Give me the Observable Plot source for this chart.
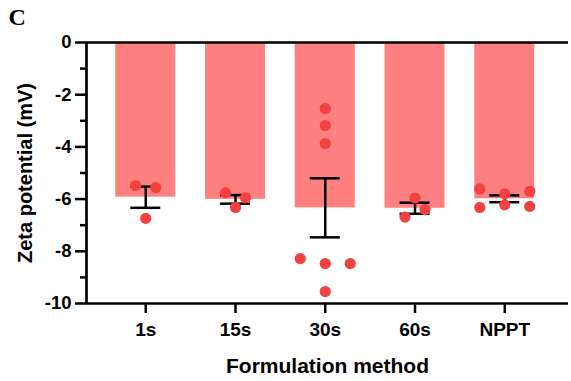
<!DOCTYPE html>
<html>
<head>
<meta charset="utf-8">
<script src="https://cdn.jsdelivr.net/npm/d3@7"></script>
<script src="https://cdn.jsdelivr.net/npm/@observablehq/plot@0.6"></script>
<style>
  html, body { margin: 0; padding: 0; background: #fff; }
  #chart svg { display: block; }
</style>
</head>
<body>
<div id="chart"></div>
<script>
// ---- data ----
const categories = ["1s", "15s", "30s", "60s", "NPPT"];
const v1s   = [-5.48, -5.56, -6.74];
const v15s  = [-5.76, -5.95, -6.32];
const v30s  = [-2.53, -3.18, -3.87, -8.28, -8.47, -8.47, -9.54];
const v60s  = [-5.96, -6.69, -6.40];
const vNPPT = [-5.61, -5.80, -5.70, -6.32, -6.22, -6.28];
const yTicks = [0, -2, -4, -6, -8, -10];
const yMinorTicks = [-1, -3, -5, -7, -9];
const title = "C";
const xLabel = "Formulation method";
const yLabel = "Zeta potential (mV)";

const seriesValues = [v1s, v15s, v30s, v60s, vNPPT];

// ---- layout ----
const W = 571, H = 381;
const mL = 86, mR = 3, mT = 42, mB = 78;
const xDomain = [-0.66, 4.71];
const pxPerUnit = (W - mL - mR) / (xDomain[1] - xDomain[0]);
const barW = 60 / pxPerUnit;
const capW = 15 / pxPerUnit;
const barColor = "#ff8080";
const dotColor = "#f24141";

// summary (mean ± SEM)
const summary = seriesValues.map((vals, i) => {
  const m = d3.mean(vals);
  const sem = d3.deviation(vals) / Math.sqrt(vals.length);
  return {i, cat: categories[i], mean: m, lo: m - sem, hi: m + sem};
});

// scatter layout: group points that nearly overlap into rows, spread each row
const points = [];
seriesValues.forEach((vals, i) => {
  const rows = [];
  let cur = null;
  vals.forEach(v => {
    if (cur && Math.abs(cur[cur.length - 1] - v) < 0.3) cur.push(v);
    else { cur = [v]; rows.push(cur); }
  });
  rows.forEach(row => {
    const n = row.length;
    const step = n <= 2 ? 20 : 25;
    row.forEach((v, k) => {
      points.push({i, v, off: (k - (n - 1) / 2) * step / pxPerUnit});
    });
  });
});

const chart = Plot.plot({
  width: W, height: H,
  marginLeft: mL, marginRight: mR, marginTop: mT, marginBottom: mB,
  style: {fontFamily: "'Liberation Sans', Arial, sans-serif", fontWeight: "bold", fontSize: "19px", color: "black", background: "white", overflow: "visible"},
  x: {type: "linear", domain: xDomain},
  y: {domain: [-10, 0]},
  marks: [
    // bars
    Plot.rectY(summary, {x1: d => d.i - barW / 2, x2: d => d.i + barW / 2, y1: 0, y2: "mean", fill: barColor}),
    // error bars
    Plot.ruleX(summary, {x: "i", y1: "lo", y2: "hi", stroke: "black", strokeWidth: 2.5}),
    Plot.ruleY(summary, {y: "hi", x1: d => d.i - capW, x2: d => d.i + capW, stroke: "black", strokeWidth: 2.5}),
    Plot.ruleY(summary, {y: "lo", x1: d => d.i - capW, x2: d => d.i + capW, stroke: "black", strokeWidth: 2.5}),
    // points
    Plot.dot(points, {x: d => d.i + d.off, y: "v", r: 5.6, fill: dotColor, stroke: null}),
    // axis lines
    Plot.ruleX([xDomain[0]], {y1: -10, y2: 0, stroke: "black", strokeWidth: 2.7}),
    Plot.ruleY([0, -10], {x1: xDomain[0], x2: xDomain[1], stroke: "black", strokeWidth: 2.7}),
    // y axis
    Plot.axisY({ticks: yTicks, tickSize: 11, tickPadding: 4, strokeWidth: 2.5, fontSize: 18.5, fontWeight: "bold", tickFormat: d => d === 0 ? "0" : String(d).replace("−", "-"), label: null}),
    Plot.axisY({ticks: yMinorTicks, tickSize: 6, strokeWidth: 2.5, tickFormat: () => "", label: null}),
    // x axis
    Plot.axisX({ticks: d3.range(categories.length), tickSize: 10, tickPadding: 9, strokeWidth: 2.5, fontSize: 19, fontWeight: "bold", tickFormat: i => categories[i], label: null}),
    // axis titles
    Plot.text([xLabel], {frameAnchor: "bottom", dy: 63, fontSize: 21, fontWeight: "bold", lineAnchor: "middle", textAnchor: "middle"}),
    Plot.text([yLabel], {frameAnchor: "left", dx: -61, rotate: -90, fontSize: 20, fontWeight: "bold", lineAnchor: "middle", textAnchor: "middle"}),
    // panel letter
    Plot.text([title], {frameAnchor: "top-left", dx: -78, dy: -35, textAnchor: "start", lineAnchor: "top", fontSize: 24, fontWeight: "bold", fontFamily: "'Liberation Serif', 'Times New Roman', serif"})
  ]
});
document.getElementById("chart").append(chart);
</script>
</body>
</html>
